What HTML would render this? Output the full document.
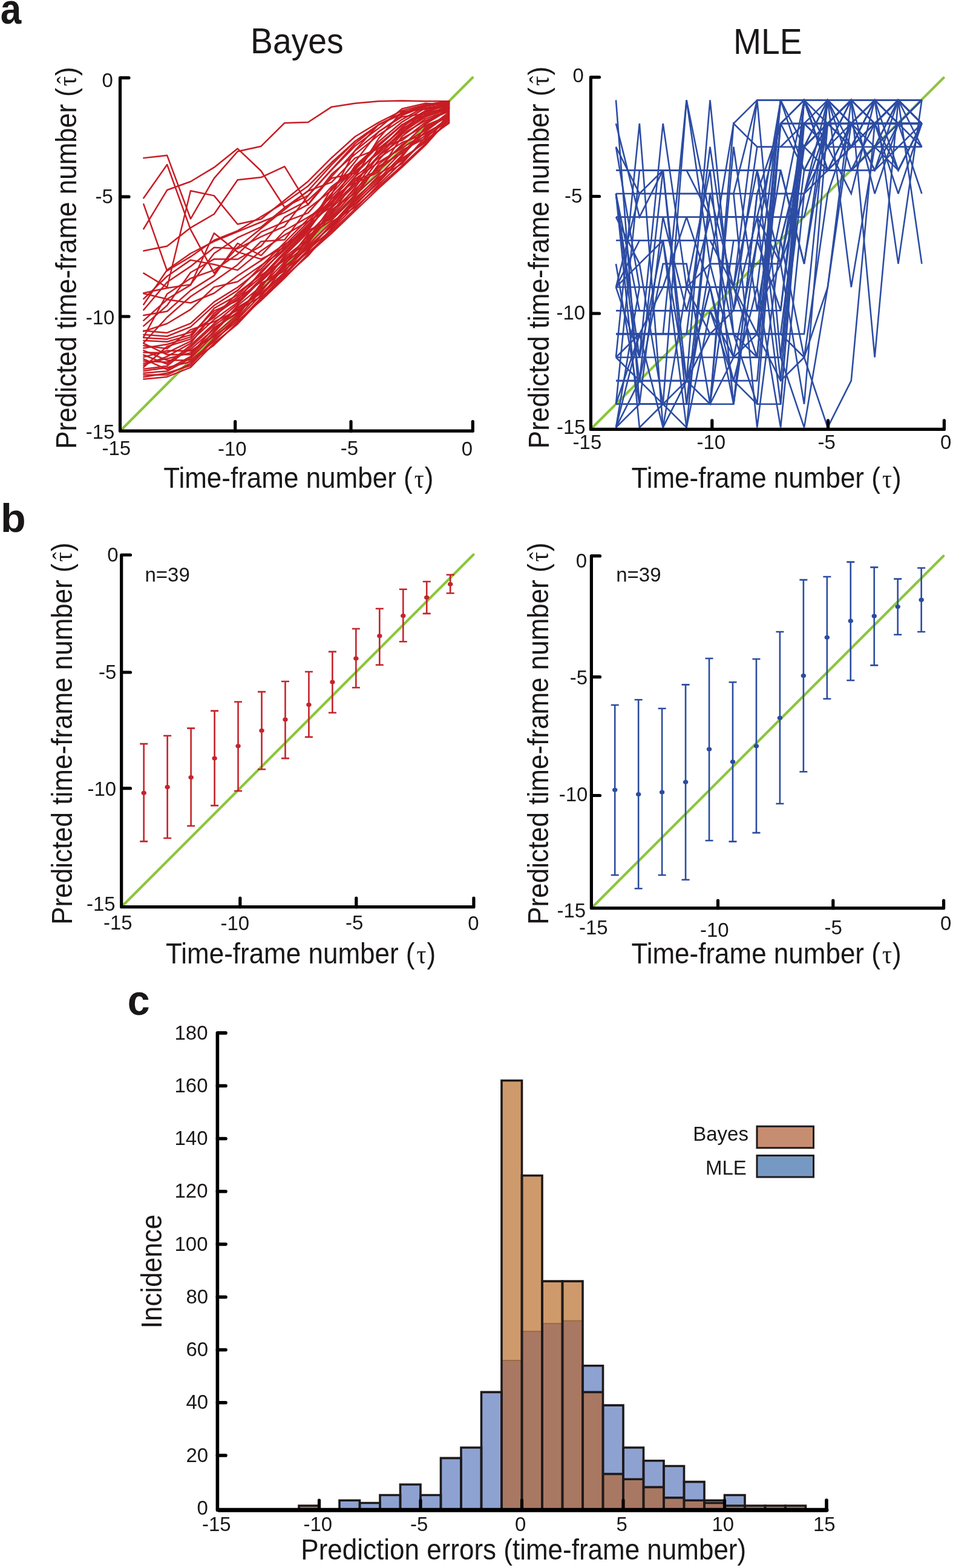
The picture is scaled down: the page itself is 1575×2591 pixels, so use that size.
<!DOCTYPE html>
<html><head><meta charset="utf-8"><title>Figure</title>
<style>html,body{margin:0;padding:0;background:#fff;}body{width:1575px;height:2591px;overflow:hidden;}svg{display:block;font-family:"Liberation Sans", Arial, Helvetica, sans-serif;}</style>
</head><body>
<svg width="1575" height="2591" viewBox="0 0 1575 2591">
<rect width="1575" height="2591" fill="#fff"/>
<text transform="translate(0.7,38.9) scale(1,1.15)" font-size="62" font-weight="bold" fill="#1a1718">a</text>
<text transform="translate(0.9,878.6) scale(1.1,1.08)" font-size="62" font-weight="bold" fill="#1a1718">b</text>
<text transform="translate(210.66,1677) scale(1.07,1.15)" font-size="62" font-weight="bold" fill="#1a1718">c</text>
<text transform="translate(414,88.3) scale(1,1.08)" font-size="55.3" fill="#1a1718">Bayes</text>
<text transform="translate(1212,88.5) scale(1,1.08)" font-size="55.3" fill="#1a1718">MLE</text>
<path d="M199.5 711.2 L781 128.3" stroke="#8cc43f" stroke-width="4.2" stroke-linecap="round" fill="none"/>
<g fill="none" stroke="#c81c24" stroke-width="2.5" stroke-linejoin="round" stroke-linecap="round">
<path d="M237.33 553.02 L276.17 555.74 L315 540.17 L353.83 504.76 L392.67 479.85 L431.5 439.76 L470.33 400.84 L509.17 361.92 L548 324.95 L586.83 282.91 L625.67 253.33 L664.5 217.14 L703.33 189.12 L742.17 175.88"/>
<path d="M237.33 626.58 L276.17 622.68 L315 607.12 L353.83 567.03 L392.67 535.5 L431.5 494.25 L470.33 457.27 L509.17 422.64 L548 377.1 L586.83 333.51 L625.67 296.15 L664.5 256.45 L703.33 217.14 L742.17 188.34"/>
<path d="M237.33 571.31 L276.17 575.98 L315 544.84 L353.83 531.61 L392.67 512.93 L431.5 489.58 L470.33 440.15 L509.17 410.18 L548 371.65 L586.83 327.67 L625.67 293.42 L664.5 270.46 L703.33 226.09 L742.17 198.46"/>
<path d="M237.33 609.84 L276.17 604.78 L315 573.64 L353.83 537.84 L392.67 510.59 L431.5 482.57 L470.33 435.48 L509.17 402.79 L548 343.63 L586.83 306.26 L625.67 244.38 L664.5 231.93 L703.33 201.96 L742.17 179.39"/>
<path d="M237.33 606.73 L276.17 572.48 L315 560.41 L353.83 521.1 L392.67 493.86 L431.5 465.45 L470.33 427.69 L509.17 400.06 L548 355.3 L586.83 309.77 L625.67 257.61 L664.5 228.81 L703.33 207.41 L742.17 191.06"/>
<path d="M237.33 586.49 L276.17 601.67 L315 570.53 L353.83 534.72 L392.67 502.42 L431.5 463.11 L470.33 424.97 L509.17 395 L548 340.12 L586.83 302.76 L625.67 284.08 L664.5 225.31 L703.33 196.12 L742.17 182.89"/>
<path d="M237.33 623.07 L276.17 616.46 L315 604 L353.83 561.19 L392.67 530.44 L431.5 496.58 L470.33 459.61 L509.17 419.91 L548 385.66 L586.83 348.3 L625.67 311.32 L664.5 276.3 L703.33 239.71 L742.17 196.12"/>
<path d="M237.33 589.99 L276.17 579.48 L315 579.87 L353.83 555.35 L392.67 527.72 L431.5 487.24 L470.33 452.21 L509.17 412.52 L548 379.82 L586.83 339.35 L625.67 299.26 L664.5 261.9 L703.33 235.04 L742.17 200.79"/>
<path d="M237.33 616.46 L276.17 613.34 L315 591.94 L353.83 552.63 L392.67 520.32 L431.5 470.51 L470.33 442.48 L509.17 405.12 L548 366.59 L586.83 342.46 L625.67 308.21 L664.5 273.57 L703.33 237.38 L742.17 187.17"/>
<path d="M237.33 546.4 L276.17 549.9 L315 534.34 L353.83 498.92 L392.67 474.79 L431.5 444.43 L470.33 405.51 L509.17 366.98 L548 319.5 L586.83 277.07 L625.67 238.54 L664.5 207.02 L703.33 184.83 L742.17 173.16"/>
<path d="M237.33 575.2 L276.17 568.97 L315 556.91 L353.83 509.43 L392.67 487.63 L431.5 451.44 L470.33 409.4 L509.17 370.87 L548 329.23 L586.83 287.58 L625.67 249.05 L664.5 212.47 L703.33 192.62 L742.17 177.83"/>
<path d="M237.33 600.11 L276.17 592.72 L315 582.99 L353.83 549.51 L392.67 507.87 L431.5 484.91 L470.33 449.88 L509.17 392.28 L548 352.58 L586.83 299.26 L625.67 281.36 L664.5 247.88 L703.33 228.42 L742.17 194.95"/>
<path d="M237.33 596.61 L276.17 598.55 L315 577.15 L353.83 543.68 L392.67 515.65 L431.5 477.9 L470.33 445.21 L509.17 417.58 L548 382.55 L586.83 345.18 L625.67 305.1 L664.5 267.73 L703.33 230.76 L742.17 203.52"/>
<path d="M237.33 612.95 L276.17 607.51 L315 597.78 L353.83 570.14 L392.67 532.78 L431.5 491.91 L470.33 454.55 L509.17 414.85 L548 369.31 L586.83 336.62 L625.67 301.98 L664.5 259.17 L703.33 209.74 L742.17 189.5"/>
<path d="M237.33 619.57 L276.17 619.57 L315 600.89 L353.83 558.47 L392.67 523.05 L431.5 468.17 L470.33 447.54 L509.17 407.46 L548 374.37 L586.83 330.78 L625.67 290.31 L664.5 250.61 L703.33 223.75 L742.17 193.4"/>
<path d="M237.33 603.22 L276.17 589.21 L315 567.42 L353.83 517.6 L392.67 490.75 L431.5 457.66 L470.33 416.41 L509.17 377.88 L548 333.12 L586.83 295.76 L625.67 268.12 L664.5 244.77 L703.33 219.47 L742.17 199.62"/>
<path d="M237.33 567.42 L276.17 586.1 L315 586.1 L353.83 540.95 L392.67 517.99 L431.5 475.57 L470.33 422.25 L509.17 384.1 L548 358.42 L586.83 315.99 L625.67 264.62 L664.5 221.42 L703.33 199.23 L742.17 184.06"/>
<path d="M237.33 593.1 L276.17 610.62 L315 589.21 L353.83 546.79 L392.67 505.15 L431.5 473.23 L470.33 432.75 L509.17 389.55 L548 363.87 L586.83 324.95 L625.67 271.63 L664.5 241.66 L703.33 204.68 L742.17 181.33"/>
<path d="M237.33 562.75 L276.17 564.69 L315 553.41 L353.83 513.71 L392.67 496.97 L431.5 447.93 L470.33 412.91 L509.17 374.76 L548 337.01 L586.83 291.86 L625.67 261.12 L664.5 235.43 L703.33 221.42 L742.17 197.29"/>
<path d="M237.33 582.6 L276.17 582.99 L315 563.91 L353.83 528.11 L392.67 499.7 L431.5 460.39 L470.33 419.13 L509.17 380.99 L548 361.14 L586.83 321.83 L625.67 287.19 L664.5 265.01 L703.33 232.71 L742.17 202.35"/>
<path d="M237.33 579.09 L276.17 595.44 L315 595.05 L353.83 564.3 L392.67 525.38 L431.5 480.24 L470.33 437.81 L509.17 386.83 L548 346.74 L586.83 319.11 L625.67 274.74 L664.5 253.33 L703.33 212.08 L742.17 192.23"/>
<path d="M237.33 558.08 L276.17 560.41 L315 549.13 L353.83 524.61 L392.67 483.74 L431.5 454.55 L470.33 430.42 L509.17 397.73 L548 349.47 L586.83 312.88 L625.67 277.85 L664.5 238.54 L703.33 214.8 L742.17 185.61"/>
<path d="M237.33 484.13 L276.17 475.96 L315 470.12 L353.83 418.74 L392.67 392.67 L431.5 375.15 L470.33 343.24 L509.17 315.61 L548 301.2 L586.83 261.12 L625.67 245.55 L664.5 214.41 L703.33 185.61 L742.17 178.61"/>
<path d="M237.33 547.57 L276.17 534.72 L315 511.37 L353.83 474.4 L392.67 465.45 L431.5 438.59 L470.33 411.74 L509.17 373.21 L548 321.44 L586.83 248.27 L625.67 205.85 L664.5 188.73 L703.33 173.55 L742.17 168.1"/>
<path d="M237.33 512.15 L276.17 466.23 L315 440.15 L353.83 409.01 L392.67 410.96 L431.5 391.11 L470.33 373.99 L509.17 323.39 L548 280.58 L586.83 241.27 L625.67 212.08 L664.5 179.77 L703.33 170.82 L742.17 173.55"/>
<path d="M237.33 538.62 L276.17 504.76 L315 450.27 L353.83 428.08 L392.67 428.47 L431.5 406.68 L470.33 358.81 L509.17 337.79 L548 287.97 L586.83 254.89 L625.67 223.36 L664.5 197.29 L703.33 175.88 L742.17 169.66"/>
<path d="M237.33 493.86 L276.17 456.5 L315 429.64 L353.83 437.04 L392.67 446.38 L431.5 414.46 L470.33 388.39 L509.17 365.81 L548 342.07 L586.83 292.64 L625.67 228.81 L664.5 184.44 L703.33 180.55 L742.17 170.82"/>
<path d="M237.33 556.91 L276.17 485.69 L315 460 L353.83 446.38 L392.67 419.91 L431.5 383.33 L470.33 366.59 L509.17 351.8 L548 308.21 L586.83 279.8 L625.67 234.26 L664.5 201.57 L703.33 178.22 L742.17 172.38"/>
<path d="M237.33 529.67 L276.17 495.03 L315 500.48 L353.83 484.52 L392.67 455.72 L431.5 430.42 L470.33 403.56 L509.17 380.99 L548 328.06 L586.83 299.65 L625.67 257.23 L664.5 219.08 L703.33 193.01 L742.17 180.16"/>
<path d="M237.33 521.1 L276.17 514.49 L315 479.85 L353.83 455.33 L392.67 402.01 L431.5 422.25 L470.33 380.99 L509.17 358.81 L548 334.68 L586.83 273.57 L625.67 239.71 L664.5 205.85 L703.33 190.28 L742.17 175.88"/>
<path d="M237.33 566.64 L276.17 524.22 L315 489.97 L353.83 464.67 L392.67 437.42 L431.5 398.89 L470.33 396.17 L509.17 344.8 L548 314.44 L586.83 267.34 L625.67 217.53 L664.5 193.01 L703.33 187.95 L742.17 177.44"/>
<path d="M237.33 503.2 L276.17 445.99 L315 418.74 L353.83 398.89 L392.67 382.94 L431.5 366.98 L470.33 351.41 L509.17 330.78 L548 294.59 L586.83 286.03 L625.67 251 L664.5 210.13 L703.33 183.28 L742.17 174.71"/>
<path d="M237.33 261.12 L276.17 256.84 L315 361.53 L353.83 294.59 L392.67 250.22 L431.5 241.66 L470.33 203.13 L509.17 201.96 L548 176.66 L586.83 170.82 L625.67 167.32 L664.5 166.54 L703.33 167.32 L742.17 167.32"/>
<path d="M237.33 378.27 L276.17 314.05 L315 300.04 L353.83 276.69 L392.67 245.55 L431.5 282.52 L470.33 342.46 L509.17 323 L548 280.19 L586.83 237.38 L625.67 206.24 L664.5 186.78 L703.33 175.1 L742.17 169.27"/>
<path d="M237.33 414.46 L276.17 406.68 L315 376.32 L353.83 353.75 L392.67 297.31 L431.5 293.03 L470.33 275.13 L509.17 338.57 L548 291.86 L586.83 249.05 L625.67 217.92 L664.5 190.67 L703.33 175.1 L742.17 167.32"/>
<path d="M237.33 327.28 L276.17 272.01 L315 379.43 L353.83 451.44 L392.67 408.62 L431.5 377.49 L470.33 346.35 L509.17 315.22 L548 272.4 L586.83 233.48 L625.67 206.24 L664.5 186.78 L703.33 175.1 L742.17 169.27"/>
<path d="M237.33 337.4 L276.17 447.54 L315 424.19 L353.83 396.95 L392.67 381.38 L431.5 358.03 L470.33 334.68 L509.17 307.43 L548 268.51 L586.83 233.48 L625.67 206.24 L664.5 186.78 L703.33 173.16 L742.17 167.32"/>
<path d="M237.33 451.44 L276.17 474.79 L315 315.22 L353.83 323.39 L392.67 370.48 L431.5 361.92 L470.33 330.78 L509.17 299.65 L548 260.73 L586.83 225.7 L625.67 202.35 L664.5 182.89 L703.33 173.16 L742.17 167.32"/>
<path d="M237.33 484.91 L276.17 494.25 L315 470.9 L353.83 385.27 L392.67 416.41 L431.5 428.08 L470.33 408.62 L509.17 377.49 L548 311.32 L586.83 280.19 L625.67 241.27 L664.5 206.24 L703.33 182.89 L742.17 171.21"/>
</g>
<g fill="none" stroke="#000" stroke-width="5.2" stroke-linecap="round" stroke-linejoin="round">
<path d="M213 128.6 L198.5 128.6 L198.5 712.2 L781.3 712.2 L781.3 696.5"/>
<path d="M198.5 325.2 H213"/>
<path d="M198.5 523 H213"/>
<path d="M388.7 712.2 V696.5"/>
<path d="M580 712.2 V696.5"/>
</g>
<text transform="translate(168.4,143.8) scale(1,1.02)" font-size="33" fill="#1a1718">0</text>
<text transform="translate(157.4,335.7) scale(1,1.02)" font-size="33" fill="#1a1718">-5</text>
<text transform="translate(141.7,535.8) scale(1,1.02)" font-size="33" fill="#1a1718">-10</text>
<text transform="translate(141.7,725.1) scale(1,1.02)" font-size="33" fill="#1a1718">-15</text>
<text transform="translate(168.4,751.5) scale(1,1.02)" font-size="33" fill="#1a1718">-15</text>
<text transform="translate(360,752.8) scale(1,1.02)" font-size="33" fill="#1a1718">-10</text>
<text transform="translate(562.7,752) scale(1,1.02)" font-size="33" fill="#1a1718">-5</text>
<text transform="translate(762.7,752.5) scale(1,1.02)" font-size="33" fill="#1a1718">0</text>
<g transform="translate(125.6,741.8) rotate(-90) scale(1,1.09)">
<text x="0" y="0" font-size="44" fill="#1a1718">Predicted time-frame number (<tspan dx="3" font-size="40" font-family='Liberation Serif, Times New Roman, serif'>&#964;</tspan><tspan dx="1">)</tspan></text>
<text x="603.4" y="-3.5" font-size="37" fill="#1a1718" font-family='Liberation Serif, Times New Roman, serif'>&#710;</text>
</g>
<text transform="translate(270.2,805.9) scale(1,1.09)" font-size="44" fill="#1a1718">Time-frame number (<tspan dx="3" font-size="40" font-family='Liberation Serif, Times New Roman, serif'>&#964;</tspan><tspan dx="1">)</tspan></text>
<path d="M980.1 705.4 L1559.5 128.5" stroke="#8cc43f" stroke-width="4.2" stroke-linecap="round" fill="none"/>
<g fill="none" stroke="#2c4ca4" stroke-width="2.6" stroke-linejoin="miter" stroke-miterlimit="3" stroke-linecap="butt">
<path d="M1017.98 474.56 L1056.86 320 L1095.74 320 L1134.62 320 L1173.5 320 L1212.38 320 L1251.26 320 L1290.14 320 L1329.02 320 L1367.9 242.72 L1406.78 204.08 L1445.66 165.44 L1484.54 165.44 L1523.42 165.44"/>
<path d="M1017.98 358.64 L1056.86 358.64 L1095.74 358.64 L1134.62 358.64 L1173.5 358.64 L1212.38 358.64 L1251.26 358.64 L1290.14 358.64 L1329.02 358.64 L1367.9 204.08 L1406.78 165.44 L1445.66 204.08 L1484.54 165.44 L1523.42 165.44"/>
<path d="M1017.98 397.28 L1056.86 397.28 L1095.74 397.28 L1134.62 397.28 L1173.5 397.28 L1212.38 397.28 L1251.26 397.28 L1290.14 397.28 L1329.02 242.72 L1367.9 204.08 L1406.78 165.44 L1445.66 165.44 L1484.54 204.08 L1523.42 165.44"/>
<path d="M1017.98 513.2 L1056.86 513.2 L1095.74 513.2 L1134.62 513.2 L1173.5 513.2 L1212.38 513.2 L1251.26 513.2 L1290.14 513.2 L1329.02 204.08 L1367.9 242.72 L1406.78 165.44 L1445.66 204.08 L1484.54 165.44 L1523.42 165.44"/>
<path d="M1017.98 551.84 L1056.86 551.84 L1095.74 551.84 L1134.62 551.84 L1173.5 551.84 L1212.38 551.84 L1251.26 551.84 L1290.14 551.84 L1329.02 551.84 L1367.9 165.44 L1406.78 204.08 L1445.66 165.44 L1484.54 165.44 L1523.42 204.08"/>
<path d="M1017.98 590.48 L1056.86 590.48 L1095.74 590.48 L1134.62 590.48 L1173.5 590.48 L1212.38 590.48 L1251.26 590.48 L1290.14 590.48 L1329.02 281.36 L1367.9 204.08 L1406.78 242.72 L1445.66 204.08 L1484.54 165.44 L1523.42 204.08"/>
<path d="M1017.98 629.12 L1056.86 629.12 L1095.74 629.12 L1134.62 629.12 L1173.5 629.12 L1212.38 629.12 L1251.26 474.56 L1290.14 706.4 L1329.02 320 L1367.9 281.36 L1406.78 204.08 L1445.66 281.36 L1484.54 242.72 L1523.42 204.08"/>
<path d="M1017.98 667.76 L1056.86 281.36 L1095.74 281.36 L1134.62 629.12 L1173.5 667.76 L1212.38 397.28 L1251.26 397.28 L1290.14 397.28 L1329.02 590.48 L1367.9 320 L1406.78 204.08 L1445.66 165.44 L1484.54 204.08 L1523.42 204.08"/>
<path d="M1017.98 706.4 L1056.86 629.12 L1095.74 667.76 L1134.62 629.12 L1173.5 474.56 L1212.38 629.12 L1251.26 629.12 L1290.14 204.08 L1329.02 204.08 L1367.9 204.08 L1406.78 242.72 L1445.66 165.44 L1484.54 165.44 L1523.42 165.44"/>
<path d="M1017.98 242.72 L1056.86 320 L1095.74 320 L1134.62 320 L1173.5 320 L1212.38 320 L1251.26 165.44 L1290.14 165.44 L1329.02 242.72 L1367.9 204.08 L1406.78 204.08 L1445.66 204.08 L1484.54 165.44 L1523.42 204.08"/>
<path d="M1017.98 706.4 L1056.86 551.84 L1095.74 474.56 L1134.62 358.64 L1173.5 474.56 L1212.38 667.76 L1251.26 397.28 L1290.14 165.44 L1329.02 281.36 L1367.9 281.36 L1406.78 281.36 L1445.66 242.72 L1484.54 242.72 L1523.42 242.72"/>
<path d="M1017.98 474.56 L1056.86 435.92 L1095.74 397.28 L1134.62 397.28 L1173.5 397.28 L1212.38 474.56 L1251.26 281.36 L1290.14 629.12 L1329.02 165.44 L1367.9 242.72 L1406.78 320 L1445.66 165.44 L1484.54 165.44 L1523.42 204.08"/>
<path d="M1017.98 320 L1056.86 706.4 L1095.74 667.76 L1134.62 706.4 L1173.5 320 L1212.38 320 L1251.26 706.4 L1290.14 397.28 L1329.02 242.72 L1367.9 281.36 L1406.78 242.72 L1445.66 204.08 L1484.54 320 L1523.42 204.08"/>
<path d="M1017.98 474.56 L1056.86 474.56 L1095.74 474.56 L1134.62 474.56 L1173.5 435.92 L1212.38 590.48 L1251.26 551.84 L1290.14 629.12 L1329.02 590.48 L1367.9 706.4 L1406.78 629.12 L1445.66 204.08 L1484.54 204.08 L1523.42 204.08"/>
<path d="M1017.98 551.84 L1056.86 551.84 L1095.74 706.4 L1134.62 474.56 L1173.5 551.84 L1212.38 551.84 L1251.26 590.48 L1290.14 590.48 L1329.02 165.44 L1367.9 165.44 L1406.78 204.08 L1445.66 204.08 L1484.54 281.36 L1523.42 204.08"/>
<path d="M1017.98 320 L1056.86 590.48 L1095.74 204.08 L1134.62 474.56 L1173.5 474.56 L1212.38 474.56 L1251.26 165.44 L1290.14 590.48 L1329.02 706.4 L1367.9 474.56 L1406.78 204.08 L1445.66 242.72 L1484.54 204.08 L1523.42 204.08"/>
<path d="M1017.98 474.56 L1056.86 590.48 L1095.74 397.28 L1134.62 629.12 L1173.5 474.56 L1212.38 474.56 L1251.26 551.84 L1290.14 165.44 L1329.02 165.44 L1367.9 281.36 L1406.78 204.08 L1445.66 204.08 L1484.54 165.44 L1523.42 165.44"/>
<path d="M1017.98 590.48 L1056.86 551.84 L1095.74 551.84 L1134.62 551.84 L1173.5 551.84 L1212.38 551.84 L1251.26 551.84 L1290.14 358.64 L1329.02 165.44 L1367.9 165.44 L1406.78 281.36 L1445.66 242.72 L1484.54 281.36 L1523.42 204.08"/>
<path d="M1017.98 435.92 L1056.86 667.76 L1095.74 667.76 L1134.62 667.76 L1173.5 667.76 L1212.38 667.76 L1251.26 320 L1290.14 204.08 L1329.02 165.44 L1367.9 281.36 L1406.78 281.36 L1445.66 204.08 L1484.54 165.44 L1523.42 204.08"/>
<path d="M1017.98 706.4 L1056.86 474.56 L1095.74 474.56 L1134.62 474.56 L1173.5 474.56 L1212.38 474.56 L1251.26 590.48 L1290.14 165.44 L1329.02 165.44 L1367.9 281.36 L1406.78 242.72 L1445.66 165.44 L1484.54 281.36 L1523.42 204.08"/>
<path d="M1017.98 320 L1056.86 320 L1095.74 281.36 L1134.62 281.36 L1173.5 281.36 L1212.38 667.76 L1251.26 320 L1290.14 320 L1329.02 320 L1367.9 165.44 L1406.78 204.08 L1445.66 281.36 L1484.54 165.44 L1523.42 204.08"/>
<path d="M1017.98 242.72 L1056.86 474.56 L1095.74 474.56 L1134.62 474.56 L1173.5 281.36 L1212.38 281.36 L1251.26 281.36 L1290.14 435.92 L1329.02 204.08 L1367.9 165.44 L1406.78 165.44 L1445.66 165.44 L1484.54 165.44 L1523.42 165.44"/>
<path d="M1017.98 320 L1056.86 629.12 L1095.74 281.36 L1134.62 281.36 L1173.5 358.64 L1212.38 551.84 L1251.26 667.76 L1290.14 204.08 L1329.02 281.36 L1367.9 204.08 L1406.78 204.08 L1445.66 204.08 L1484.54 204.08 L1523.42 320"/>
<path d="M1017.98 204.08 L1056.86 358.64 L1095.74 281.36 L1134.62 667.76 L1173.5 435.92 L1212.38 204.08 L1251.26 165.44 L1290.14 165.44 L1329.02 165.44 L1367.9 165.44 L1406.78 165.44 L1445.66 320 L1484.54 204.08 L1523.42 204.08"/>
<path d="M1017.98 667.76 L1056.86 667.76 L1095.74 667.76 L1134.62 165.44 L1173.5 435.92 L1212.38 435.92 L1251.26 435.92 L1290.14 435.92 L1329.02 667.76 L1367.9 204.08 L1406.78 204.08 L1445.66 204.08 L1484.54 204.08 L1523.42 204.08"/>
<path d="M1017.98 590.48 L1056.86 204.08 L1095.74 706.4 L1134.62 629.12 L1173.5 551.84 L1212.38 513.2 L1251.26 358.64 L1290.14 435.92 L1329.02 242.72 L1367.9 165.44 L1406.78 204.08 L1445.66 204.08 L1484.54 204.08 L1523.42 165.44"/>
<path d="M1017.98 706.4 L1056.86 667.76 L1095.74 667.76 L1134.62 667.76 L1173.5 667.76 L1212.38 204.08 L1251.26 242.72 L1290.14 242.72 L1329.02 204.08 L1367.9 204.08 L1406.78 165.44 L1445.66 165.44 L1484.54 165.44 L1523.42 242.72"/>
<path d="M1017.98 590.48 L1056.86 629.12 L1095.74 435.92 L1134.62 435.92 L1173.5 667.76 L1212.38 242.72 L1251.26 513.2 L1290.14 281.36 L1329.02 435.92 L1367.9 165.44 L1406.78 474.56 L1445.66 242.72 L1484.54 165.44 L1523.42 165.44"/>
<path d="M1017.98 474.56 L1056.86 397.28 L1095.74 397.28 L1134.62 706.4 L1173.5 513.2 L1212.38 590.48 L1251.26 397.28 L1290.14 513.2 L1329.02 165.44 L1367.9 242.72 L1406.78 242.72 L1445.66 242.72 L1484.54 165.44 L1523.42 435.92"/>
<path d="M1017.98 165.44 L1056.86 667.76 L1095.74 667.76 L1134.62 667.76 L1173.5 667.76 L1212.38 590.48 L1251.26 590.48 L1290.14 204.08 L1329.02 165.44 L1367.9 281.36 L1406.78 281.36 L1445.66 281.36 L1484.54 204.08 L1523.42 204.08"/>
<path d="M1017.98 320 L1056.86 513.2 L1095.74 513.2 L1134.62 513.2 L1173.5 513.2 L1212.38 629.12 L1251.26 667.76 L1290.14 667.76 L1329.02 204.08 L1367.9 242.72 L1406.78 165.44 L1445.66 165.44 L1484.54 165.44 L1523.42 165.44"/>
<path d="M1017.98 281.36 L1056.86 281.36 L1095.74 281.36 L1134.62 281.36 L1173.5 281.36 L1212.38 281.36 L1251.26 281.36 L1290.14 281.36 L1329.02 435.92 L1367.9 204.08 L1406.78 165.44 L1445.66 165.44 L1484.54 435.92 L1523.42 165.44"/>
<path d="M1017.98 667.76 L1056.86 551.84 L1095.74 551.84 L1134.62 165.44 L1173.5 358.64 L1212.38 358.64 L1251.26 358.64 L1290.14 204.08 L1329.02 204.08 L1367.9 204.08 L1406.78 204.08 L1445.66 204.08 L1484.54 165.44 L1523.42 165.44"/>
<path d="M1017.98 513.2 L1056.86 513.2 L1095.74 513.2 L1134.62 513.2 L1173.5 513.2 L1212.38 513.2 L1251.26 242.72 L1290.14 242.72 L1329.02 242.72 L1367.9 204.08 L1406.78 242.72 L1445.66 204.08 L1484.54 204.08 L1523.42 242.72"/>
<path d="M1017.98 358.64 L1056.86 435.92 L1095.74 667.76 L1134.62 667.76 L1173.5 320 L1212.38 474.56 L1251.26 474.56 L1290.14 165.44 L1329.02 165.44 L1367.9 281.36 L1406.78 281.36 L1445.66 242.72 L1484.54 242.72 L1523.42 242.72"/>
<path d="M1017.98 629.12 L1056.86 629.12 L1095.74 629.12 L1134.62 629.12 L1173.5 165.44 L1212.38 551.84 L1251.26 551.84 L1290.14 551.84 L1329.02 242.72 L1367.9 165.44 L1406.78 242.72 L1445.66 165.44 L1484.54 204.08 L1523.42 165.44"/>
<path d="M1017.98 551.84 L1056.86 551.84 L1095.74 551.84 L1134.62 551.84 L1173.5 551.84 L1212.38 551.84 L1251.26 551.84 L1290.14 551.84 L1329.02 590.48 L1367.9 474.56 L1406.78 165.44 L1445.66 204.08 L1484.54 204.08 L1523.42 165.44"/>
<path d="M1017.98 667.76 L1056.86 667.76 L1095.74 358.64 L1134.62 513.2 L1173.5 358.64 L1212.38 358.64 L1251.26 358.64 L1290.14 667.76 L1329.02 165.44 L1367.9 204.08 L1406.78 165.44 L1445.66 204.08 L1484.54 204.08 L1523.42 204.08"/>
<path d="M1017.98 551.84 L1056.86 551.84 L1095.74 551.84 L1134.62 551.84 L1173.5 242.72 L1212.38 513.2 L1251.26 513.2 L1290.14 435.92 L1329.02 320 L1367.9 204.08 L1406.78 165.44 L1445.66 590.48 L1484.54 165.44 L1523.42 204.08"/>
</g>
<g fill="none" stroke="#000" stroke-width="5.2" stroke-linecap="round" stroke-linejoin="round">
<path d="M990.5 127.6 L976.4 127.6 L976.4 709.4 L1560.4 709.4 L1560.4 694.8"/>
<path d="M976.4 324.5 H990.5"/>
<path d="M976.4 518 H990.5"/>
<path d="M1176.8 709.4 V694.8"/>
<path d="M1368.5 709.4 V694.8"/>
</g>
<text transform="translate(946.4,135.7) scale(1,1.02)" font-size="33" fill="#1a1718">0</text>
<text transform="translate(933,334.6) scale(1,1.02)" font-size="33" fill="#1a1718">-5</text>
<text transform="translate(919.5,528) scale(1,1.02)" font-size="33" fill="#1a1718">-10</text>
<text transform="translate(920,717.1) scale(1,1.02)" font-size="33" fill="#1a1718">-15</text>
<text transform="translate(946.6,741.6) scale(1,1.02)" font-size="33" fill="#1a1718">-15</text>
<text transform="translate(1151.5,741.6) scale(1,1.02)" font-size="33" fill="#1a1718">-10</text>
<text transform="translate(1351.5,741.6) scale(1,1.02)" font-size="33" fill="#1a1718">-5</text>
<text transform="translate(1554.1,742.1) scale(1,1.02)" font-size="33" fill="#1a1718">0</text>
<g transform="translate(906.7,741.2) rotate(-90) scale(1,1.09)">
<text x="0" y="0" font-size="44" fill="#1a1718">Predicted time-frame number (<tspan dx="3" font-size="40" font-family='Liberation Serif, Times New Roman, serif'>&#964;</tspan><tspan dx="1">)</tspan></text>
<text x="603.4" y="-3.5" font-size="37" fill="#1a1718" font-family='Liberation Serif, Times New Roman, serif'>&#710;</text>
</g>
<text transform="translate(1043.4,805.9) scale(1,1.09)" font-size="44" fill="#1a1718">Time-frame number (<tspan dx="3" font-size="40" font-family='Liberation Serif, Times New Roman, serif'>&#964;</tspan><tspan dx="1">)</tspan></text>
<path d="M201.5 1497.7 L782.4 916.5" stroke="#8cc43f" stroke-width="4.2" stroke-linecap="round" fill="none"/>
<g stroke="#c4242b" stroke-width="2.6" fill="none" stroke-linecap="butt">
<path d="M237.7 1229.1 V1390.4 M231.2 1229.1 h13 M231.2 1390.4 h13"/>
<path d="M276.66 1215.7 V1385 M270.16 1215.7 h13 M270.16 1385 h13"/>
<path d="M315.62 1203.4 V1364.7 M309.12 1203.4 h13 M309.12 1364.7 h13"/>
<path d="M354.58 1174.6 V1331.1 M348.08 1174.6 h13 M348.08 1331.1 h13"/>
<path d="M393.54 1159.7 V1307 M387.04 1159.7 h13 M387.04 1307 h13"/>
<path d="M432.5 1143.1 V1271.3 M426 1143.1 h13 M426 1271.3 h13"/>
<path d="M471.46 1126 V1253.1 M464.96 1126 h13 M464.96 1253.1 h13"/>
<path d="M510.42 1110 V1217.9 M503.92 1110 h13 M503.92 1217.9 h13"/>
<path d="M549.38 1076.9 V1177.8 M542.88 1076.9 h13 M542.88 1177.8 h13"/>
<path d="M588.34 1039 V1136.2 M581.84 1039 h13 M581.84 1136.2 h13"/>
<path d="M627.3 1005.8 V1098.8 M620.8 1005.8 h13 M620.8 1098.8 h13"/>
<path d="M666.26 973.8 V1060.3 M659.76 973.8 h13 M659.76 1060.3 h13"/>
<path d="M705.22 961 V1013.9 M698.72 961 h13 M698.72 1013.9 h13"/>
<path d="M744.18 949.8 V980.2 M737.68 949.8 h13 M737.68 980.2 h13"/>
</g>
<g fill="#c4242b">
<ellipse cx="237.7" cy="1310.3" rx="4.2" ry="3.5"/>
<ellipse cx="276.66" cy="1300.6" rx="4.2" ry="3.5"/>
<ellipse cx="315.62" cy="1284.6" rx="4.2" ry="3.5"/>
<ellipse cx="354.58" cy="1253.1" rx="4.2" ry="3.5"/>
<ellipse cx="393.54" cy="1232.8" rx="4.2" ry="3.5"/>
<ellipse cx="432.5" cy="1207.2" rx="4.2" ry="3.5"/>
<ellipse cx="471.46" cy="1189" rx="4.2" ry="3.5"/>
<ellipse cx="510.42" cy="1164.5" rx="4.2" ry="3.5"/>
<ellipse cx="549.38" cy="1127.1" rx="4.2" ry="3.5"/>
<ellipse cx="588.34" cy="1088.1" rx="4.2" ry="3.5"/>
<ellipse cx="627.3" cy="1050.7" rx="4.2" ry="3.5"/>
<ellipse cx="666.26" cy="1017.6" rx="4.2" ry="3.5"/>
<ellipse cx="705.22" cy="987.2" rx="4.2" ry="3.5"/>
<ellipse cx="744.18" cy="965.3" rx="4.2" ry="3.5"/>
</g>
<g fill="none" stroke="#000" stroke-width="5.2" stroke-linecap="round" stroke-linejoin="round">
<path d="M215.5 917 L200.7 917 L200.7 1498.7 L782.9 1498.7 L782.9 1484"/>
<path d="M200.7 1111 H215.5"/>
<path d="M200.7 1302.7 H215.5"/>
<path d="M396.8 1498.7 V1484"/>
<path d="M588.8 1498.7 V1484"/>
</g>
<text transform="translate(177.3,928.3) scale(1,1.02)" font-size="33" fill="#1a1718">0</text>
<text transform="translate(163,1122) scale(1,1.02)" font-size="33" fill="#1a1718">-5</text>
<text transform="translate(144.4,1315.4) scale(1,1.02)" font-size="33" fill="#1a1718">-10</text>
<text transform="translate(143,1505.4) scale(1,1.02)" font-size="33" fill="#1a1718">-15</text>
<text transform="translate(171,1536.1) scale(1,1.02)" font-size="33" fill="#1a1718">-15</text>
<text transform="translate(364.4,1536.8) scale(1,1.02)" font-size="33" fill="#1a1718">-10</text>
<text transform="translate(571,1535.5) scale(1,1.02)" font-size="33" fill="#1a1718">-5</text>
<text transform="translate(773.2,1536.8) scale(1,1.02)" font-size="33" fill="#1a1718">0</text>
<text transform="translate(239.5,960.8) scale(1,1.02)" font-size="33" fill="#1a1718">n=39</text>
<g transform="translate(118.7,1527.8) rotate(-90) scale(1,1.09)">
<text x="0" y="0" font-size="44" fill="#1a1718">Predicted time-frame number (<tspan dx="3" font-size="40" font-family='Liberation Serif, Times New Roman, serif'>&#964;</tspan><tspan dx="1">)</tspan></text>
<text x="603.4" y="-3.5" font-size="37" fill="#1a1718" font-family='Liberation Serif, Times New Roman, serif'>&#710;</text>
</g>
<text transform="translate(274,1591.8) scale(1,1.09)" font-size="44" fill="#1a1718">Time-frame number (<tspan dx="3" font-size="40" font-family='Liberation Serif, Times New Roman, serif'>&#964;</tspan><tspan dx="1">)</tspan></text>
<path d="M978.4 1499.7 L1559.2 918.7" stroke="#8cc43f" stroke-width="4.2" stroke-linecap="round" fill="none"/>
<g stroke="#2b4c9e" stroke-width="2.6" fill="none" stroke-linecap="butt">
<path d="M1016.2 1165 V1446 M1009.7 1165 h13 M1009.7 1446 h13"/>
<path d="M1055.16 1156.3 V1468.2 M1048.66 1156.3 h13 M1048.66 1468.2 h13"/>
<path d="M1094.12 1170.8 V1446 M1087.62 1170.8 h13 M1087.62 1446 h13"/>
<path d="M1133.08 1131.4 V1453.7 M1126.58 1131.4 h13 M1126.58 1453.7 h13"/>
<path d="M1172.04 1088 V1389 M1165.54 1088 h13 M1165.54 1389 h13"/>
<path d="M1211 1127.3 V1390.6 M1204.5 1127.3 h13 M1204.5 1390.6 h13"/>
<path d="M1249.96 1089 V1376.1 M1243.46 1089 h13 M1243.46 1376.1 h13"/>
<path d="M1288.92 1044 V1328 M1282.42 1044 h13 M1282.42 1328 h13"/>
<path d="M1327.88 958.1 V1275.3 M1321.38 958.1 h13 M1321.38 1275.3 h13"/>
<path d="M1366.84 953 V1154.7 M1360.34 953 h13 M1360.34 1154.7 h13"/>
<path d="M1405.8 928.6 V1124.2 M1399.3 928.6 h13 M1399.3 1124.2 h13"/>
<path d="M1444.76 937.4 V1099.4 M1438.26 937.4 h13 M1438.26 1099.4 h13"/>
<path d="M1483.72 956.6 V1048.7 M1477.22 956.6 h13 M1477.22 1048.7 h13"/>
<path d="M1522.68 938.5 V1044 M1516.18 938.5 h13 M1516.18 1044 h13"/>
</g>
<g fill="#2b4c9e">
<ellipse cx="1016.2" cy="1305.3" rx="4.2" ry="3.5"/>
<ellipse cx="1055.16" cy="1312.5" rx="4.2" ry="3.5"/>
<ellipse cx="1094.12" cy="1308.9" rx="4.2" ry="3.5"/>
<ellipse cx="1133.08" cy="1292.3" rx="4.2" ry="3.5"/>
<ellipse cx="1172.04" cy="1238" rx="4.2" ry="3.5"/>
<ellipse cx="1211" cy="1258.7" rx="4.2" ry="3.5"/>
<ellipse cx="1249.96" cy="1232.8" rx="4.2" ry="3.5"/>
<ellipse cx="1288.92" cy="1186.3" rx="4.2" ry="3.5"/>
<ellipse cx="1327.88" cy="1116.4" rx="4.2" ry="3.5"/>
<ellipse cx="1366.84" cy="1053.3" rx="4.2" ry="3.5"/>
<ellipse cx="1405.8" cy="1025.9" rx="4.2" ry="3.5"/>
<ellipse cx="1444.76" cy="1018.1" rx="4.2" ry="3.5"/>
<ellipse cx="1483.72" cy="1002.6" rx="4.2" ry="3.5"/>
<ellipse cx="1522.68" cy="991.2" rx="4.2" ry="3.5"/>
</g>
<g fill="none" stroke="#000" stroke-width="5.2" stroke-linecap="round" stroke-linejoin="round">
<path d="M991.5 918.7 L977.4 918.7 L977.4 1500.7 L1559.6 1500.7 L1559.6 1488"/>
<path d="M977.4 1118.7 H991.5"/>
<path d="M977.4 1314.5 H991.5"/>
<path d="M1186.5 1500.7 V1488"/>
<path d="M1376.8 1500.7 V1488"/>
</g>
<text transform="translate(951.7,937.7) scale(1,1.02)" font-size="33" fill="#1a1718">0</text>
<text transform="translate(941.7,1130.7) scale(1,1.02)" font-size="33" fill="#1a1718">-5</text>
<text transform="translate(923.7,1324.1) scale(1,1.02)" font-size="33" fill="#1a1718">-10</text>
<text transform="translate(920.4,1516.1) scale(1,1.02)" font-size="33" fill="#1a1718">-15</text>
<text transform="translate(957,1543.5) scale(1,1.02)" font-size="33" fill="#1a1718">-15</text>
<text transform="translate(1157,1547.5) scale(1,1.02)" font-size="33" fill="#1a1718">-10</text>
<text transform="translate(1362.4,1543.5) scale(1,1.02)" font-size="33" fill="#1a1718">-5</text>
<text transform="translate(1554.1,1537.1) scale(1,1.02)" font-size="33" fill="#1a1718">0</text>
<text transform="translate(1018.2,960.8) scale(1,1.02)" font-size="33" fill="#1a1718">n=39</text>
<g transform="translate(906.4,1527.8) rotate(-90) scale(1,1.09)">
<text x="0" y="0" font-size="44" fill="#1a1718">Predicted time-frame number (<tspan dx="3" font-size="40" font-family='Liberation Serif, Times New Roman, serif'>&#964;</tspan><tspan dx="1">)</tspan></text>
<text x="603.4" y="-3.5" font-size="37" fill="#1a1718" font-family='Liberation Serif, Times New Roman, serif'>&#710;</text>
</g>
<text transform="translate(1043.4,1591.8) scale(1,1.09)" font-size="44" fill="#1a1718">Time-frame number (<tspan dx="3" font-size="40" font-family='Liberation Serif, Times New Roman, serif'>&#964;</tspan><tspan dx="1">)</tspan></text>
<g stroke="none">
<rect x="494" y="2487.94" width="33.5" height="4.36" fill="#a97863"/>
<rect x="561" y="2479.21" width="33.5" height="13.09" fill="#8ea2d2"/>
<rect x="594.5" y="2483.57" width="33.5" height="8.73" fill="#8ea2d2"/>
<rect x="628" y="2470.49" width="33.5" height="21.82" fill="#8ea2d2"/>
<rect x="661.5" y="2453.03" width="33.5" height="39.27" fill="#8ea2d2"/>
<rect x="695" y="2470.49" width="33.5" height="21.82" fill="#8ea2d2"/>
<rect x="728.5" y="2409.4" width="33.5" height="82.9" fill="#8ea2d2"/>
<rect x="762" y="2391.95" width="33.5" height="100.35" fill="#8ea2d2"/>
<rect x="795.5" y="2300.33" width="33.5" height="191.97" fill="#8ea2d2"/>
<rect x="829" y="2247.97" width="33.5" height="244.33" fill="#a97863"/>
<rect x="829" y="1785.49" width="33.5" height="462.48" fill="#cf9a6b"/>
<rect x="862.5" y="2199.98" width="33.5" height="292.32" fill="#a97863"/>
<rect x="862.5" y="1942.56" width="33.5" height="257.42" fill="#cf9a6b"/>
<rect x="896" y="2186.89" width="33.5" height="305.41" fill="#a97863"/>
<rect x="896" y="2117.08" width="33.5" height="69.81" fill="#cf9a6b"/>
<rect x="929.5" y="2182.53" width="33.5" height="309.77" fill="#a97863"/>
<rect x="929.5" y="2117.08" width="33.5" height="65.44" fill="#cf9a6b"/>
<rect x="963" y="2300.33" width="33.5" height="191.97" fill="#a97863"/>
<rect x="963" y="2256.7" width="33.5" height="43.63" fill="#8ea2d2"/>
<rect x="996.5" y="2435.58" width="33.5" height="56.72" fill="#a97863"/>
<rect x="996.5" y="2322.14" width="33.5" height="113.44" fill="#8ea2d2"/>
<rect x="1030" y="2444.31" width="33.5" height="47.99" fill="#a97863"/>
<rect x="1030" y="2391.95" width="33.5" height="52.36" fill="#8ea2d2"/>
<rect x="1063.5" y="2457.4" width="33.5" height="34.9" fill="#a97863"/>
<rect x="1063.5" y="2413.77" width="33.5" height="43.63" fill="#8ea2d2"/>
<rect x="1097" y="2474.85" width="33.5" height="17.45" fill="#a97863"/>
<rect x="1097" y="2422.49" width="33.5" height="52.36" fill="#8ea2d2"/>
<rect x="1130.5" y="2479.21" width="33.5" height="13.09" fill="#a97863"/>
<rect x="1130.5" y="2448.67" width="33.5" height="30.54" fill="#8ea2d2"/>
<rect x="1164" y="2483.57" width="33.5" height="8.73" fill="#a97863"/>
<rect x="1164" y="2479.21" width="33.5" height="4.36" fill="#8ea2d2"/>
<rect x="1197.5" y="2487.94" width="33.5" height="4.36" fill="#a97863"/>
<rect x="1197.5" y="2470.49" width="33.5" height="17.45" fill="#8ea2d2"/>
<rect x="1231" y="2487.94" width="33.5" height="4.36" fill="#a97863"/>
<rect x="1264.5" y="2487.94" width="33.5" height="4.36" fill="#a97863"/>
<rect x="1298" y="2487.94" width="33.5" height="4.36" fill="#a97863"/>
</g>
<g stroke="#9c6a45" stroke-width="2" fill="none">
<path d="M829 2247.97 H862.5"/>
<path d="M862.5 2199.98 H896"/>
<path d="M896 2186.89 H929.5"/>
<path d="M929.5 2182.53 H963"/>
</g>
<g stroke="#1e1a1a" stroke-width="3.6" fill="none" stroke-linejoin="miter">
<path d="M494 2492.3 V2487.94 H527.5 V2492.3"/>
<path d="M561 2492.3 V2479.21 H594.5 V2492.3"/>
<path d="M594.5 2492.3 V2483.57 H628 V2492.3"/>
<path d="M628 2492.3 V2470.49 H661.5 V2492.3"/>
<path d="M661.5 2492.3 V2453.03 H695 V2492.3"/>
<path d="M695 2492.3 V2470.49 H728.5 V2492.3"/>
<path d="M728.5 2492.3 V2409.4 H762 V2492.3"/>
<path d="M762 2492.3 V2391.95 H795.5 V2492.3"/>
<path d="M795.5 2492.3 V2300.33 H829 V2492.3"/>
<path d="M829 2492.3 V1785.49 H862.5 V2492.3"/>
<path d="M862.5 2492.3 V1942.56 H896 V2492.3"/>
<path d="M896 2492.3 V2117.08 H929.5 V2492.3"/>
<path d="M929.5 2492.3 V2117.08 H963 V2492.3"/>
<path d="M963 2492.3 V2256.7 H996.5 V2492.3"/>
<path d="M963 2300.33 H996.5"/>
<path d="M996.5 2492.3 V2322.14 H1030 V2492.3"/>
<path d="M996.5 2435.58 H1030"/>
<path d="M1030 2492.3 V2391.95 H1063.5 V2492.3"/>
<path d="M1030 2444.31 H1063.5"/>
<path d="M1063.5 2492.3 V2413.77 H1097 V2492.3"/>
<path d="M1063.5 2457.4 H1097"/>
<path d="M1097 2492.3 V2422.49 H1130.5 V2492.3"/>
<path d="M1097 2474.85 H1130.5"/>
<path d="M1130.5 2492.3 V2448.67 H1164 V2492.3"/>
<path d="M1130.5 2479.21 H1164"/>
<path d="M1164 2492.3 V2479.21 H1197.5 V2492.3"/>
<path d="M1164 2483.57 H1197.5"/>
<path d="M1197.5 2492.3 V2470.49 H1231 V2492.3"/>
<path d="M1197.5 2487.94 H1231"/>
<path d="M1231 2492.3 V2487.94 H1264.5 V2492.3"/>
<path d="M1264.5 2492.3 V2487.94 H1298 V2492.3"/>
<path d="M1298 2492.3 V2487.94 H1331.5 V2492.3"/>
</g>
<g fill="none" stroke="#000" stroke-linecap="round" stroke-linejoin="round">
<path d="M373 1706.9 H359.4 V2495.3 H1366 V2479" stroke-width="5.6"/>
<path d="M359.4 2405.04 H373" stroke-width="5.6"/>
<path d="M359.4 2317.78 H373" stroke-width="5.6"/>
<path d="M359.4 2230.52 H373" stroke-width="5.6"/>
<path d="M359.4 2143.26 H373" stroke-width="5.6"/>
<path d="M359.4 2056 H373" stroke-width="5.6"/>
<path d="M359.4 1968.74 H373" stroke-width="5.6"/>
<path d="M359.4 1881.48 H373" stroke-width="5.6"/>
<path d="M359.4 1794.22 H373" stroke-width="5.6"/>
<path d="M527.5 2495.3 V2479" stroke-width="5.2"/>
<path d="M695 2495.3 V2479" stroke-width="5.2"/>
<path d="M862.5 2495.3 V2479" stroke-width="5.2"/>
<path d="M1030 2495.3 V2479" stroke-width="5.2"/>
<path d="M1197.5 2495.3 V2479" stroke-width="5.2"/>
<path d="M362 2495.3 H1366" stroke-width="7"/>
</g>
<text transform="translate(325.5,2502.9) scale(1,1.02)" font-size="33" fill="#1a1718">0</text>
<text transform="translate(307.5,2415.64) scale(1,1.02)" font-size="33" fill="#1a1718">20</text>
<text transform="translate(307.5,2328.38) scale(1,1.02)" font-size="33" fill="#1a1718">40</text>
<text transform="translate(307.5,2241.12) scale(1,1.02)" font-size="33" fill="#1a1718">60</text>
<text transform="translate(307.5,2153.86) scale(1,1.02)" font-size="33" fill="#1a1718">80</text>
<text transform="translate(288.5,2066.6) scale(1,1.02)" font-size="33" fill="#1a1718">100</text>
<text transform="translate(288.5,1979.34) scale(1,1.02)" font-size="33" fill="#1a1718">120</text>
<text transform="translate(288.5,1892.08) scale(1,1.02)" font-size="33" fill="#1a1718">140</text>
<text transform="translate(288.5,1804.82) scale(1,1.02)" font-size="33" fill="#1a1718">160</text>
<text transform="translate(288.5,1717.56) scale(1,1.02)" font-size="33" fill="#1a1718">180</text>
<text transform="translate(334,2530) scale(1,1.02)" font-size="33" fill="#1a1718">-15</text>
<text transform="translate(501.5,2530) scale(1,1.02)" font-size="33" fill="#1a1718">-10</text>
<text transform="translate(678,2530) scale(1,1.02)" font-size="33" fill="#1a1718">-5</text>
<text transform="translate(851,2530) scale(1,1.02)" font-size="33" fill="#1a1718">0</text>
<text transform="translate(1018.5,2530) scale(1,1.02)" font-size="33" fill="#1a1718">5</text>
<text transform="translate(1176.5,2530) scale(1,1.02)" font-size="33" fill="#1a1718">10</text>
<text transform="translate(1344,2530) scale(1,1.02)" font-size="33" fill="#1a1718">15</text>
<g transform="translate(266.9,2195.2) rotate(-90) scale(1,1.076)"><text x="0" y="0" font-size="44" fill="#1a1718">Incidence</text></g>
<text transform="translate(497.3,2577.1) scale(1,1.09)" font-size="44" fill="#1a1718">Prediction errors (time-frame number)</text>
<rect x="1251" y="1861.2" width="93.5" height="35.6" fill="#c78d70" stroke="#1e1a1a" stroke-width="3"/>
<rect x="1251" y="1909.4" width="93.5" height="35.6" fill="#7699c4" stroke="#1e1a1a" stroke-width="3"/>
<text transform="translate(1145.2,1885.3) scale(1,1.02)" font-size="33" fill="#1a1718">Bayes</text>
<text transform="translate(1165.9,1941.3) scale(1,1.02)" font-size="33" fill="#1a1718">MLE</text>
</svg>
</body></html>
